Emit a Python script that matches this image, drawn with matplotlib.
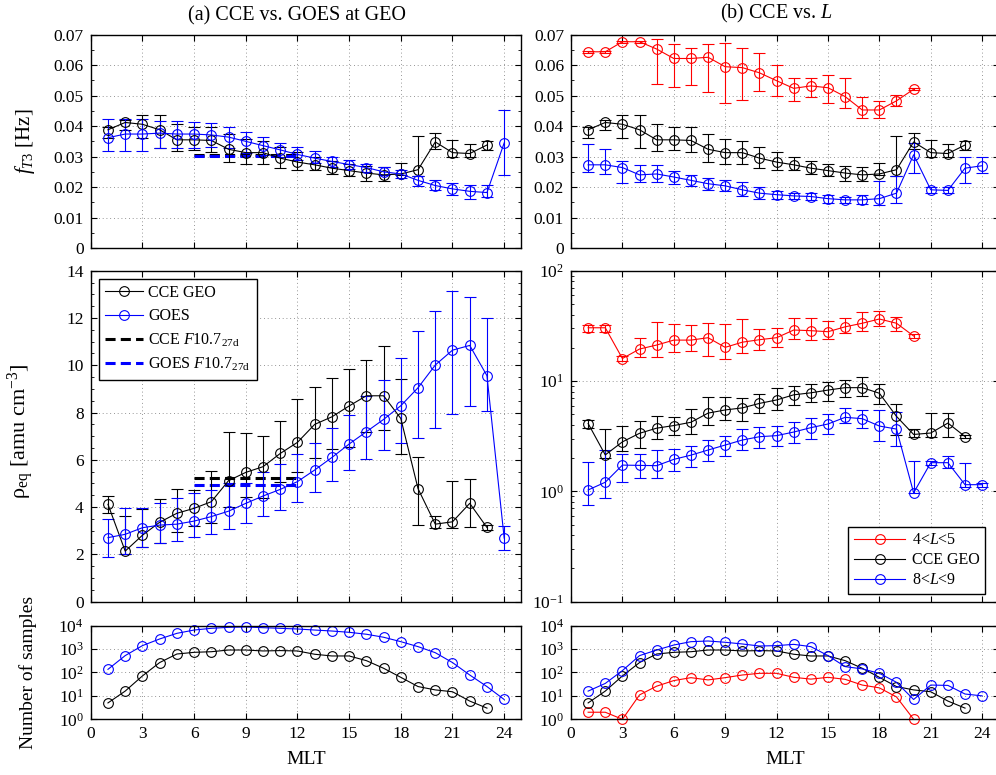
import numpy as np
import matplotlib
matplotlib.use('Agg')
from matplotlib import pyplot as plt
from matplotlib.ticker import MultipleLocator, AutoMinorLocator, FuncFormatter, LogLocator

plt.rcParams['font.family'] = ['Liberation Serif', 'DejaVu Serif']
plt.rcParams['mathtext.fontset'] = 'custom'
plt.rcParams['mathtext.rm'] = 'Liberation Serif'
plt.rcParams['mathtext.it'] = 'Liberation Serif:italic'
plt.rcParams['axes.linewidth'] = 1.0

# MLT bins
mlt_cce = list(range(1, 24))
mlt_goes = list(range(1, 25))
mlt_l45 = list(range(1, 21))
mlt_l89 = list(range(1, 25))

# f_T3 [Hz]
f_cce = [0.0388, 0.0412, 0.0406, 0.0388, 0.0355, 0.0355, 0.0353, 0.0324, 0.0313, 0.0313, 0.0295, 0.0282,
         0.0273, 0.0262, 0.0254, 0.0246, 0.0240, 0.0243, 0.0257, 0.0348, 0.0313, 0.0310, 0.0338]
f_cce_hi = [0.0396, 0.0420, 0.0435, 0.0435, 0.0406, 0.0398, 0.0398, 0.0373, 0.0358, 0.0350, 0.0331, 0.0314,
            0.0300, 0.0287, 0.0276, 0.0270, 0.0267, 0.0278, 0.0366, 0.0379, 0.0353, 0.0340, 0.0350]
f_cce_lo = [0.0360, 0.0388, 0.0361, 0.0327, 0.0319, 0.0322, 0.0314, 0.0281, 0.0275, 0.0276, 0.0262, 0.0257,
            0.0257, 0.0242, 0.0237, 0.0220, 0.0220, 0.0238, 0.0237, 0.0324, 0.0300, 0.0300, 0.0322]

f_goes = [0.0362, 0.0374, 0.0374, 0.0377, 0.0374, 0.0374, 0.0371, 0.0364, 0.0350, 0.0336, 0.0322, 0.0307,
          0.0295, 0.0284, 0.0274, 0.0264, 0.0250, 0.0243, 0.0222, 0.0205, 0.0194, 0.0186, 0.0182, 0.0345]
f_goes_hi = [0.0424, 0.0424, 0.0424, 0.0418, 0.0418, 0.0415, 0.0409, 0.0398, 0.0381, 0.0364, 0.0346, 0.0331,
             0.0317, 0.0300, 0.0289, 0.0276, 0.0267, 0.0257, 0.0235, 0.0222, 0.0213, 0.0207, 0.0207, 0.0453]
f_goes_lo = [0.0319, 0.0319, 0.0319, 0.0327, 0.0327, 0.0327, 0.0330, 0.0327, 0.0313, 0.0306, 0.0300, 0.0289,
             0.0278, 0.0267, 0.0259, 0.0251, 0.0238, 0.0229, 0.0205, 0.0189, 0.0175, 0.0162, 0.0169, 0.0240]

f_l45 = [0.0644, 0.0644, 0.0677, 0.0677, 0.0653, 0.0622, 0.0622, 0.0626, 0.0595, 0.0592, 0.0575, 0.0549,
         0.0524, 0.0532, 0.0526, 0.0497, 0.0453, 0.0453, 0.0483, 0.0521]
f_l45_hi = [0.0648, 0.0648, 0.0681, 0.0681, 0.0686, 0.0671, 0.0658, 0.0671, 0.0674, 0.0655, 0.0641, 0.0600,
            0.0559, 0.0557, 0.0568, 0.0559, 0.0497, 0.0483, 0.0502, 0.0524]
f_l45_lo = [0.0640, 0.0640, 0.0673, 0.0673, 0.0537, 0.0529, 0.0535, 0.0513, 0.0477, 0.0486, 0.0516, 0.0499,
            0.0483, 0.0497, 0.0475, 0.0461, 0.0426, 0.0426, 0.0466, 0.0518]

f_l89 = [0.0273, 0.0273, 0.0264, 0.0240, 0.0243, 0.0233, 0.0222, 0.0211, 0.0204, 0.0191, 0.0180, 0.0175,
         0.0171, 0.0169, 0.0162, 0.0158, 0.0158, 0.0162, 0.0180, 0.0306, 0.0191, 0.0189, 0.0262, 0.0270]
f_l89_hi = [0.0342, 0.0324, 0.0284, 0.0273, 0.0273, 0.0254, 0.0240, 0.0229, 0.0222, 0.0215, 0.0200, 0.0188,
            0.0182, 0.0180, 0.0175, 0.0169, 0.0174, 0.0220, 0.0237, 0.0346, 0.0200, 0.0200, 0.0300, 0.0298]
f_l89_lo = [0.0251, 0.0242, 0.0213, 0.0216, 0.0216, 0.0211, 0.0204, 0.0191, 0.0188, 0.0172, 0.0162, 0.0160,
            0.0160, 0.0158, 0.0148, 0.0148, 0.0145, 0.0142, 0.0147, 0.0246, 0.0182, 0.0180, 0.0213, 0.0246]

# rho_eq [amu cm^-3]
rho_cce = [4.12, 2.14, 2.81, 3.36, 3.74, 3.95, 4.23, 5.12, 5.47, 5.71, 6.27, 6.74,
           7.50, 7.82, 8.28, 8.71, 8.71, 7.75, 4.78, 3.28, 3.38, 4.16, 3.14]
rho_cce_hi = [4.47, 3.64, 3.92, 4.33, 4.78, 4.72, 5.53, 7.16, 7.15, 7.00, 7.66, 8.59,
              9.07, 9.46, 9.83, 10.22, 10.83, 9.42, 6.13, 3.64, 5.10, 5.17, 3.24]
rho_cce_lo = [3.74, 2.02, 2.33, 2.47, 2.96, 3.21, 3.31, 4.00, 4.44, 4.37, 5.08, 5.50,
              6.06, 6.44, 6.56, 7.19, 7.26, 6.25, 3.23, 3.10, 3.10, 3.14, 3.04]

rho_goes = [2.71, 2.85, 3.13, 3.24, 3.28, 3.41, 3.60, 3.83, 4.16, 4.47, 4.75, 5.08,
            5.57, 6.10, 6.67, 7.19, 7.71, 8.29, 9.05, 10.01, 10.64, 10.84, 9.56, 2.69]
rho_goes_hi = [3.48, 3.95, 3.95, 4.16, 4.37, 4.61, 4.72, 5.00, 5.00, 5.50, 5.81, 6.25,
               6.72, 7.36, 7.90, 8.71, 9.38, 10.29, 11.46, 12.29, 13.15, 12.90, 11.98, 3.20]
rho_goes_lo = [1.88, 2.00, 2.33, 2.47, 2.57, 2.72, 2.86, 3.07, 3.31, 3.64, 3.88, 4.20,
               4.62, 5.12, 5.57, 6.02, 6.41, 6.70, 6.94, 7.33, 7.94, 8.28, 8.06, 2.20]

rho_l45 = [30.4, 30.4, 16.0, 19.5, 21.2, 23.5, 23.5, 24.7, 20.2, 22.5, 23.7, 24.7,
           29.0, 28.6, 28.0, 31.0, 33.4, 36.5, 33.4, 25.6]
rho_l45_hi = [32.0, 32.0, 17.0, 24.7, 34.0, 33.0, 32.0, 33.8, 32.6, 36.2, 29.4, 30.0,
              37.0, 37.0, 35.2, 37.5, 42.0, 43.0, 38.4, 26.5]
rho_l45_lo = [28.0, 28.0, 15.2, 16.4, 16.6, 18.5, 18.8, 16.8, 16.0, 17.8, 19.1, 20.2,
              23.9, 23.5, 23.9, 27.0, 28.4, 31.5, 28.4, 24.8]

rho_l89 = [1.03, 1.21, 1.73, 1.72, 1.71, 1.95, 2.13, 2.37, 2.63, 2.92, 3.13, 3.20,
           3.45, 3.78, 4.08, 4.69, 4.56, 3.91, 3.67, 0.97, 1.82, 1.82, 1.15, 1.15]
rho_l89_hi = [1.86, 2.37, 2.16, 2.16, 2.39, 2.43, 2.59, 2.95, 3.20, 3.66, 3.80, 3.93,
              4.24, 4.58, 4.99, 5.74, 5.50, 5.50, 5.20, 1.90, 1.90, 2.10, 1.82, 1.20]
rho_l89_lo = [0.75, 0.88, 1.21, 1.33, 1.33, 1.54, 1.67, 1.90, 2.11, 2.37, 2.49, 2.57,
              2.77, 3.00, 3.30, 4.13, 3.73, 2.89, 2.60, 0.96, 1.72, 1.62, 1.09, 1.10]

# F10.7 27-day reference levels (MLT 6-12)
f107_mlt = [6, 12]
f107_f_cce = [0.0306, 0.0306]
f107_f_goes = [0.0302, 0.0302]
f107_rho_cce = [5.23, 5.23]
f107_rho_goes = [4.95, 4.95]

# number of samples
n_cce = [5, 16, 71, 265, 615, 725, 770, 910, 910, 830, 860, 830,
         600, 507, 507, 320, 151, 62, 25, 18, 15, 6, 3]
n_goes = [136, 525, 1400, 2700, 4700, 6500, 7700, 8500, 8800, 8200, 7700, 7200,
          6500, 5900, 5200, 4300, 3200, 2070, 1270, 700, 265, 78, 25, 7]
n_l45 = [2, 2, 1, 11, 26, 45, 60, 48, 60, 78, 92, 92,
         62, 52, 62, 51, 29, 22, 9, 1]
n_l89 = [16, 34, 120, 525, 910, 1490, 2070, 2210, 1950, 1650, 1350, 1400,
         1590, 1270, 525, 178, 142, 92, 38, 7, 29, 28, 12, 10]

RED, BLK, BLU = '#ff0000', 'k', '#0000ff'


def eb(ax, x, y, lo, hi, c):
    y = np.array(y)
    err = [y - np.array(lo), np.array(hi) - y]
    cont = ax.errorbar(x, y, yerr=err, color=c, marker='o', mfc='none', ms=7, mew=0.8,
                       lw=0.8, elinewidth=0.8, capsize=4, capthick=0.8)
    cont[0].set_clip_on(False)
    return cont[0]


def line(ax, x, y, c):
    ln, = ax.plot(x, y, color=c, marker='o', mfc='none', ms=7, mew=0.8, lw=0.8, clip_on=False)
    return ln


def style(ax):
    ax.set_xlim(0, 25)
    ax.xaxis.set_major_locator(MultipleLocator(3))
    ax.tick_params(which='both', direction='in', top=True, right=True, labelsize=12.5)
    ax.tick_params(which='major', length=4, width=0.8, pad=5)
    ax.tick_params(which='minor', length=2, width=0.6)
    ax.grid(True, which='major', color='0.45', linestyle=(0, (1, 3.5)), linewidth=0.6)
    ax.set_axisbelow(True)


fig = plt.figure(figsize=(9.96, 7.75), dpi=100)

L0, LW = 0.0911, 0.4324
R0, RW = 0.5733, 0.4300
rows = [(0.680, 0.2752), (0.2236, 0.4271), (0.0719, 0.1208)]

ax_tl = fig.add_axes([L0, rows[0][0], LW, rows[0][1]])
ax_tr = fig.add_axes([R0, rows[0][0], RW, rows[0][1]])
ax_ml = fig.add_axes([L0, rows[1][0], LW, rows[1][1]])
ax_mr = fig.add_axes([R0, rows[1][0], RW, rows[1][1]])
ax_bl = fig.add_axes([L0, rows[2][0], LW, rows[2][1]])
ax_br = fig.add_axes([R0, rows[2][0], RW, rows[2][1]])

ffmt = FuncFormatter(lambda v, _: '0' if abs(v) < 1e-9 else f'{v:.2f}')

# top row: f_T3
for ax in (ax_tl, ax_tr):
    style(ax)
    ax.set_ylim(0, 0.07)
    ax.yaxis.set_major_locator(MultipleLocator(0.01))
    ax.yaxis.set_minor_locator(AutoMinorLocator(2))
    ax.yaxis.set_major_formatter(ffmt)
    ax.tick_params(labelbottom=False)

ax_tl.plot(f107_mlt, f107_f_cce, color=BLK, lw=2.2, ls=(0, (3.3, 1.7)))
ax_tl.plot(f107_mlt, f107_f_goes, color=BLU, lw=2.2, ls=(0, (3.3, 1.7)))
eb(ax_tl, mlt_cce, f_cce, f_cce_lo, f_cce_hi, BLK)
eb(ax_tl, mlt_goes, f_goes, f_goes_lo, f_goes_hi, BLU)

eb(ax_tr, mlt_l45, f_l45, f_l45_lo, f_l45_hi, RED)
eb(ax_tr, mlt_cce, f_cce, f_cce_lo, f_cce_hi, BLK)
eb(ax_tr, mlt_l89, f_l89, f_l89_lo, f_l89_hi, BLU)

# middle row: rho_eq
style(ax_ml)
ax_ml.set_ylim(0, 14)
ax_ml.yaxis.set_major_locator(MultipleLocator(2))
ax_ml.yaxis.set_minor_locator(AutoMinorLocator(4))
ax_ml.tick_params(labelbottom=False)
d1, = ax_ml.plot(f107_mlt, f107_rho_cce, color=BLK, lw=2.2, ls=(0, (3.3, 1.7)))
d2, = ax_ml.plot(f107_mlt, f107_rho_goes, color=BLU, lw=2.2, ls=(0, (3.3, 1.7)))
h1 = eb(ax_ml, mlt_cce, rho_cce, rho_cce_lo, rho_cce_hi, BLK)
h2 = eb(ax_ml, mlt_goes, rho_goes, rho_goes_lo, rho_goes_hi, BLU)
leg = ax_ml.legend([h1, h2, d1, d2],
                   ['CCE GEO', 'GOES', 'CCE $F$10.7$_{\\mathrm{27d}}$', 'GOES $F$10.7$_{\\mathrm{27d}}$'],
                   loc='upper left', fontsize=11.5, fancybox=False, framealpha=1, edgecolor='k',
                   borderaxespad=0.5, handlelength=2.4, labelspacing=0.45, borderpad=0.4,
                   handletextpad=0.3)
leg.get_frame().set_linewidth(1.0)

style(ax_mr)
ax_mr.set_yscale('log')
ax_mr.set_ylim(0.1, 100)
ax_mr.tick_params(labelbottom=False)
r1 = eb(ax_mr, mlt_l45, rho_l45, rho_l45_lo, rho_l45_hi, RED)
r2 = eb(ax_mr, mlt_cce, rho_cce, rho_cce_lo, rho_cce_hi, BLK)
r3 = eb(ax_mr, mlt_l89, rho_l89, rho_l89_lo, rho_l89_hi, BLU)
leg2 = ax_mr.legend([r1, r2, r3], ['4<$L$<5', 'CCE GEO', '8<$L$<9'],
                    loc='lower right', fontsize=11.5, fancybox=False, framealpha=1, edgecolor='k',
                    borderaxespad=0.5, handlelength=3.2, labelspacing=0.25, borderpad=0.35,
                    handletextpad=0.4, bbox_to_anchor=(0.985, 0.0))
leg2.get_frame().set_linewidth(1.0)

# bottom row: number of samples
for ax in (ax_bl, ax_br):
    style(ax)
    ax.set_yscale('log')
    ax.set_ylim(1, 1e4)
    ax.yaxis.set_major_locator(LogLocator(base=10, numticks=10))
    ax.set_xlabel('MLT', fontsize=14, labelpad=6)

line(ax_bl, mlt_cce, n_cce, BLK)
line(ax_bl, mlt_goes, n_goes, BLU)

line(ax_br, mlt_l45, n_l45, RED)
line(ax_br, mlt_cce, n_cce, BLK)
line(ax_br, mlt_l89, n_l89, BLU)

# labels and titles
ax_tl.set_ylabel('$f_{T3}$ [Hz]', fontsize=15)
ax_ml.set_ylabel('ρ$_{\\mathrm{eq}}$ [amu cm$^{-3}$]', fontsize=16)
ax_bl.set_ylabel('Number of samples', fontsize=14)
for ax in (ax_tl, ax_ml, ax_bl):
    ax.yaxis.set_label_coords(-0.125, 0.5)
ax_ml.yaxis.set_label_coords(-0.128, 0.515)

ax_tl.annotate('(a) CCE vs. GOES at GEO', xy=(12, 1), xycoords=('data', 'axes fraction'),
               xytext=(0, 7), textcoords='offset points', ha='center', va='bottom', fontsize=14.5)
ax_tr.annotate('(b) CCE vs. $L$', xy=(12, 1), xycoords=('data', 'axes fraction'),
               xytext=(0, 7), textcoords='offset points', ha='center', va='bottom', fontsize=14.5)

fig.savefig('out.png', dpi=100)
